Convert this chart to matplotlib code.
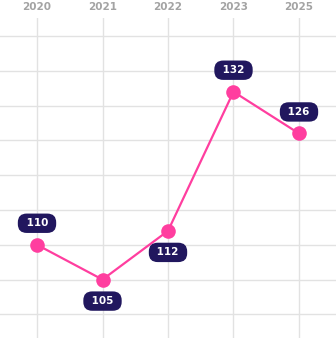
import matplotlib.pyplot as plt

# data
years = ['2020', '2021', '2022', '2023', '2025']
values = [110, 105, 112, 132, 126]
label_pos = ['above', 'below', 'below', 'above', 'above']

pink = '#ff3e9f'
navy = '#21175e'

fig = plt.figure(figsize=(3.36, 3.38), dpi=100)
ax = fig.add_axes([0, 0, 1, 320 / 338])

x = list(range(len(years)))
ax.plot(x, values, color=pink, lw=1.6, marker='o', markersize=10.5,
        markeredgewidth=0, zorder=3)

for xi, v, pos in zip(x, values, label_pos):
    dy = 15.5 if pos == 'above' else -15.5
    # spaces widen the pill a little
    ax.annotate(' ' + str(v) + ' ', (xi, v), xytext=(0, dy), textcoords='offset points',
                ha='center', va='center', color='white', fontsize=7.5,
                fontweight='bold', zorder=4,
                bbox=dict(boxstyle='round,pad=0.45,rounding_size=0.85',
                          fc=navy, ec='none'))

ax.set_xlim(-0.565, 4.565)
ax.set_ylim(96.6, 142.6)
ax.set_yticks(range(100, 141, 5))
ax.set_xticks(x)
ax.set_xticklabels(years)
ax.xaxis.tick_top()
ax.tick_params(axis='x', length=0, pad=4, labelsize=7.5, labelcolor='#a3a3a3')
for lab in ax.get_xticklabels():
    lab.set_fontweight('bold')
ax.tick_params(axis='y', length=0, labelleft=False)
ax.grid(True, color='#e2e2e2', lw=1)
ax.set_axisbelow(True)
for s in ax.spines.values():
    s.set_visible(False)

fig.savefig('out.png', dpi=100)
